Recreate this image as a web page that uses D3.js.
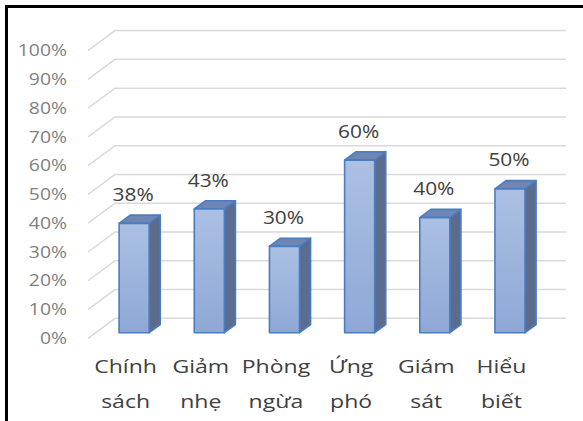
<!DOCTYPE html>
<html><head><meta charset="utf-8">
<script src="https://cdn.jsdelivr.net/npm/d3@7"></script>
<style>
html,body{margin:0;padding:0;background:#fff;}
svg{display:block;}
text{font-family:"Open Sans",sans-serif;}
</style></head>
<body>
<script>
// ---- data ----
const categories = ["Chính sách","Giảm nhẹ","Phòng ngừa","Ứng phó","Giám sát","Hiểu biết"];
const values = [0.38, 0.43, 0.30, 0.60, 0.40, 0.50];
const tickValues = [0,0.1,0.2,0.3,0.4,0.5,0.6,0.7,0.8,0.9,1.0];

const W = 583, H = 421;
const svg = d3.select("body").append("svg").attr("width",W).attr("height",H);

// back wall scales
const y = d3.scaleLinear().domain([0,1]).range([318.3, 30.6]);
const x = d3.scaleBand().domain(categories).range([115, 566]).paddingInner(0.6).paddingOuter(0.3);
const fmt = d3.format(".0%");

// floor depth (toward front-left)
const DX = 27, DY = 20;
const f1 = 0.72, f0 = 0.31;   // bar front / back depth fractions
const sdx = DX*(f1-f0), sdy = DY*(f1-f0);

// defs gradient
const defs = svg.append("defs");
const g = defs.append("linearGradient").attr("id","frontGrad").attr("x1",0).attr("y1",0).attr("x2",0).attr("y2",1);
g.append("stop").attr("offset","0%").attr("stop-color","#abc0e3");
g.append("stop").attr("offset","100%").attr("stop-color","#8ea8d6");

// frame
svg.append("rect").attr("x",6.5).attr("y",6.5).attr("width",700).attr("height",600)
  .attr("fill","none").attr("stroke","#000").attr("stroke-width",3);

// gridlines
const grid = svg.append("g").attr("stroke","#d9d9d9").attr("stroke-width",1.5).attr("fill","none");
tickValues.forEach(v => {
  grid.append("path").attr("d", `M${x.range()[0]-DX},${y(v)+DY}L${x.range()[0]},${y(v)}L${x.range()[1]},${y(v)}`);
});

// tick labels
svg.append("g").selectAll("text").data(tickValues).join("text")
  .attr("transform", v => `translate(67,${y(v)+DY}) scale(1.25,1)`)
  .attr("text-anchor","end").attr("dy","0.36em")
  .attr("font-size",15.5).attr("fill","#808080")
  .text(v => fmt(v));

// bars
const bars = svg.append("g");
categories.forEach((c,i) => {
  const v = values[i];
  const bw = x.bandwidth();
  const fx = x(c) - DX*f1 + 1;
  const ft = y(v) + DY*f1;
  const fb = y(0) + DY*f1;
  const gg = bars.append("g").attr("stroke","#4a7cc0").attr("stroke-width",1.6).attr("stroke-linejoin","round");
  gg.append("path").attr("fill","#5b6c8e")
    .attr("d",`M${fx+bw},${ft}L${fx+bw+sdx},${ft-sdy}L${fx+bw+sdx},${fb-sdy}L${fx+bw},${fb}Z`);
  gg.append("path").attr("fill","#6f86b4")
    .attr("d",`M${fx},${ft}L${fx+sdx},${ft-sdy}L${fx+bw+sdx},${ft-sdy}L${fx+bw},${ft}Z`);
  gg.append("rect").attr("x",fx).attr("y",ft).attr("width",bw).attr("height",fb-ft).attr("fill","url(#frontGrad)");
  // value label
  svg.append("text")
    .attr("transform",`translate(${fx+bw/2-1},${y(v)-8}) scale(1.1,1)`)
    .attr("text-anchor","middle").attr("font-size",19).attr("fill","#404040")
    .text(fmt(v));
  // category label
  const lines = c.split(" ");
  const cx = x(c) + x.bandwidth()/2 - DX;
  lines.forEach((ln,j) => {
    svg.append("text")
      .attr("transform",`translate(${cx},${373 + j*35}) scale(1.28,1)`)
      .attr("text-anchor","middle").attr("font-size",18).attr("fill","#404040")
      .text(ln);
  });
});
</script>
</body></html>
